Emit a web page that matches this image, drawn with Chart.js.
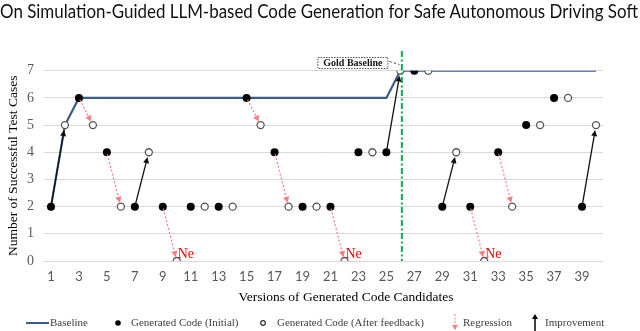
<!DOCTYPE html>
<html><head><meta charset="utf-8">
<script src="https://cdn.jsdelivr.net/npm/chart.js@4.4.0/dist/chart.umd.min.js"></script>
<style>
html,body{margin:0;padding:0;background:#fff;width:640px;height:331px;overflow:hidden;}
#wrap{position:absolute;left:0;top:0;width:640px;height:331px;}
#hdr{position:absolute;left:0;top:0;width:640px;height:26px;overflow:hidden;white-space:nowrap;}
#hdrText{display:inline-block;font-family:Lato,"Open Sans",sans-serif;font-size:18.5px;line-height:22px;color:#111;transform-origin:0 0;}
</style></head><body>
<div id="wrap"><canvas id="c" width="640" height="331"></canvas></div>
<div id="hdr"><span id="hdrText">On Simulation-Guided LLM-based Code Generation for Safe Autonomous Driving Soft</span></div>
<script>
// ---- data ----
const versions = [1,2,3,4,5,6,7,8,9,10,11,12,13,14,15,16,17,18,19,20,21,22,23,24,25,26,27,28,29,30,31,32,33,34,35,36,37,38,39,40];
const baselineScores = [2,5,6,6,6,6,6,6,6,6,6,6,6,6,6,6,6,6,6,6,6,6,6,6,6,7,7,7,7,7,7,7,7,7,7,7,7,7,7,7];
const initialVersions = [1,3,5,7,9,11,13,15,17,19,21,23,25,27,29,31,33,35,37,39];
const initialScores = [2,6,4,2,2,2,2,6,4,2,2,4,4,7,2,2,4,5,6,2];
const feedbackVersions = [2,4,6,8,10,12,14,16,18,20,22,24,26,28,30,32,34,36,38,40];
const feedbackScores = [5,5,2,4,0,2,2,5,2,2,0,4,7,7,4,0,2,5,6,5];
const improvementFrom = [1,7,25,29,39];
const regressionFrom = [3,5,9,15,17,21,31,33];
const goldVersion = 26;
const xTickLabels = [1,3,5,7,9,11,13,15,17,19,21,23,25,27,29,31,33,35,37,39];
const yTickLabels = [0,1,2,3,4,5,6,7];

// fit header
(function(){
  const s = document.getElementById('hdrText');
  const w = s.getBoundingClientRect().width;
  s.style.transform = 'scaleX(' + (638 / w) + ')';
})();

const BASE_COLOR = '#3b5a88';
const RED = '#ff7c80';
const SERIF = '"Liberation Serif","Times New Roman",serif';

function scoreOf(v){
  let i = initialVersions.indexOf(v);
  if (i >= 0) return initialScores[i];
  i = feedbackVersions.indexOf(v);
  return feedbackScores[i];
}

function arrow(ctx, x1, y1, x2, y2, color, dash, startTrim, endTrim, headLen, headW, lw){
  const dx = x2 - x1, dy = y2 - y1, L = Math.hypot(dx, dy);
  const ux = dx / L, uy = dy / L;
  const sx = x1 + ux * startTrim, sy = y1 + uy * startTrim;
  const ex = x2 - ux * endTrim, ey = y2 - uy * endTrim;
  ctx.save();
  ctx.strokeStyle = color; ctx.fillStyle = color; ctx.lineWidth = lw;
  ctx.setLineDash(dash);
  ctx.beginPath(); ctx.moveTo(sx, sy); ctx.lineTo(ex - ux * headLen * 0.7, ey - uy * headLen * 0.7); ctx.stroke();
  ctx.setLineDash([]);
  ctx.beginPath();
  ctx.moveTo(ex, ey);
  ctx.lineTo(ex - ux * headLen - uy * headW, ey - uy * headLen + ux * headW);
  ctx.lineTo(ex - ux * headLen + uy * headW, ey - uy * headLen - ux * headW);
  ctx.closePath(); ctx.fill();
  ctx.restore();
}

const annot = {
  id: 'annot',
  afterDatasetsDraw(chart){
    const {ctx, scales: {x, y}} = chart;
    const px = v => x.getPixelForValue(v), py = v => y.getPixelForValue(v);
    // gold baseline vertical line
    const gx = px(goldVersion) + 1.5;
    ctx.save();
    ctx.strokeStyle = '#00b050'; ctx.lineWidth = 2;
    ctx.setLineDash([6, 2.5, 2, 2.5]);
    ctx.beginPath(); ctx.moveTo(gx, 51); ctx.lineTo(gx, py(0)); ctx.stroke();
    ctx.restore();
    // gold baseline label
    const bx2 = px(goldVersion) - 13, bx1 = bx2 - 70;
    ctx.save();
    ctx.fillStyle = '#fff';
    ctx.fillRect(bx1, 57, bx2 - bx1, 11);
    ctx.strokeStyle = '#222'; ctx.lineWidth = 0.8; ctx.setLineDash([1.5, 1.2]);
    ctx.strokeRect(bx1 + 0.5, 57.5, bx2 - bx1, 11);
    ctx.setLineDash([2.5, 2]);
    ctx.beginPath(); ctx.moveTo(bx2 + 2, 61.5); ctx.lineTo(bx2 + 12, 64.5); ctx.stroke();
    ctx.setLineDash([]);
    ctx.fillStyle = '#111';
    ctx.font = 'bold 10px ' + SERIF;
    ctx.textAlign = 'center'; ctx.textBaseline = 'middle';
    ctx.fillText('Gold Baseline', (bx1 + bx2) / 2 + 0.5, 63.5);
    ctx.restore();
    // regression arrows
    regressionFrom.forEach(v => {
      const x1 = px(v), y1 = py(scoreOf(v)), x2 = px(v + 1), y2 = py(scoreOf(v + 1));
      arrow(ctx, x1, y1, x2, y2, RED, [2, 2], 2, 4, 6, 3.2, 1.2);
      if (scoreOf(v + 1) === 0) {
        ctx.save();
        ctx.fillStyle = '#ff0000';
        ctx.font = '14px ' + SERIF;
        ctx.textAlign = 'left'; ctx.textBaseline = 'alphabetic';
        ctx.fillText('Ne', x2 + 1, y2 - 3);
        ctx.restore();
      }
    });
    // improvement arrows
    improvementFrom.forEach(v => {
      const x1 = px(v), y1 = py(scoreOf(v)), x2 = px(v + 1), y2 = py(scoreOf(v + 1));
      arrow(ctx, x1, y1, x2, y2, '#111', [], 2, 5, 6, 3, 1.3);
    });
  },
  afterDraw(chart){
    const ctx = chart.ctx;
    const ly = 323;
    ctx.save();
    ctx.font = '11px ' + SERIF;
    ctx.fillStyle = '#404040';
    ctx.textBaseline = 'middle'; ctx.textAlign = 'left';
    // baseline
    ctx.strokeStyle = BASE_COLOR; ctx.lineWidth = 2;
    ctx.beginPath(); ctx.moveTo(26, ly); ctx.lineTo(49, ly); ctx.stroke();
    ctx.fillText('Baseline', 50, ly);
    // initial
    ctx.fillStyle = '#000';
    ctx.beginPath(); ctx.arc(118, ly, 2.8, 0, Math.PI * 2); ctx.fill();
    ctx.fillStyle = '#404040';
    ctx.fillText('Generated Code (Initial)', 131, ly);
    // after feedback
    ctx.strokeStyle = '#333'; ctx.lineWidth = 1.2;
    ctx.beginPath(); ctx.arc(263, ly, 2.3, 0, Math.PI * 2); ctx.stroke();
    ctx.fillText('Generated Code (After feedback)', 277, ly);
    // regression
    arrow(ctx, 455, 314, 455, 331, RED, [2, 1.5], 0, 1, 5, 3, 1);
    ctx.fillText('Regression', 463, ly);
    // improvement
    arrow(ctx, 535, 331, 535, 314, '#000', [], 0, 0, 5, 3, 1.5);
    ctx.fillText('Improvement', 545, ly);
    // x title
    ctx.fillStyle = '#000';
    ctx.font = '13.5px ' + SERIF;
    ctx.textAlign = 'center';
    ctx.fillText('Versions of Generated Code Candidates', 346, 297);
    ctx.restore();
  }
};

new Chart(document.getElementById('c'), {
  type: 'scatter',
  data: {
    datasets: [
      {
        label: 'Generated Code (Initial)',
        data: initialVersions.map((v, i) => ({x: v, y: initialScores[i]})),
        pointRadius: 4, pointHoverRadius: 4,
        pointBackgroundColor: '#000', pointBorderColor: '#000', pointBorderWidth: 0,
        order: 1
      },
      {
        label: 'Generated Code (After feedback)',
        data: feedbackVersions.map((v, i) => ({x: v, y: feedbackScores[i]})),
        pointRadius: 3.5, pointHoverRadius: 3.5,
        pointBackgroundColor: '#fff', pointBorderColor: '#555', pointBorderWidth: 1.3,
        order: 2
      },
      {
        type: 'line',
        label: 'Baseline',
        data: versions.map((v, i) => ({x: v, y: baselineScores[i]})),
        borderColor: BASE_COLOR, borderWidth: 2.2, pointRadius: 0, tension: 0, fill: false,
        order: 3
      }
    ]
  },
  options: {
    responsive: false, animation: false,
    layout: {padding: {top: 70.7, right: 37, left: 0, bottom: 0}},
    plugins: {legend: {display: false}, tooltip: {enabled: false}},
    scales: {
      x: {
        type: 'linear', min: 0.5, max: 40.5,
        afterBuildTicks: s => { s.ticks = xTickLabels.map(v => ({value: v})); },
        afterFit: s => { s.height = 70; },
        grid: {display: false, drawTicks: false},
        border: {display: false},
        ticks: {padding: 8, color: '#595959', font: {family: 'Lato, "Liberation Sans", sans-serif', size: 13}, maxRotation: 0, autoSkip: false}
      },
      y: {
        min: 0, max: 7,
        afterBuildTicks: s => { s.ticks = yTickLabels.map(v => ({value: v})); },
        afterFit: s => { s.width = 44; },
        grid: {color: '#d9d9d9', lineWidth: 1, drawTicks: false},
        border: {display: false},
        ticks: {padding: 10, color: '#595959', font: {family: SERIF, size: 14}},
        title: {display: true, text: 'Number of Successful Test Cases', color: '#000',
                font: {family: SERIF, size: 13.5}, padding: {top: 5, bottom: 0}}
      }
    }
  },
  plugins: [annot]
});
</script>
</body></html>
